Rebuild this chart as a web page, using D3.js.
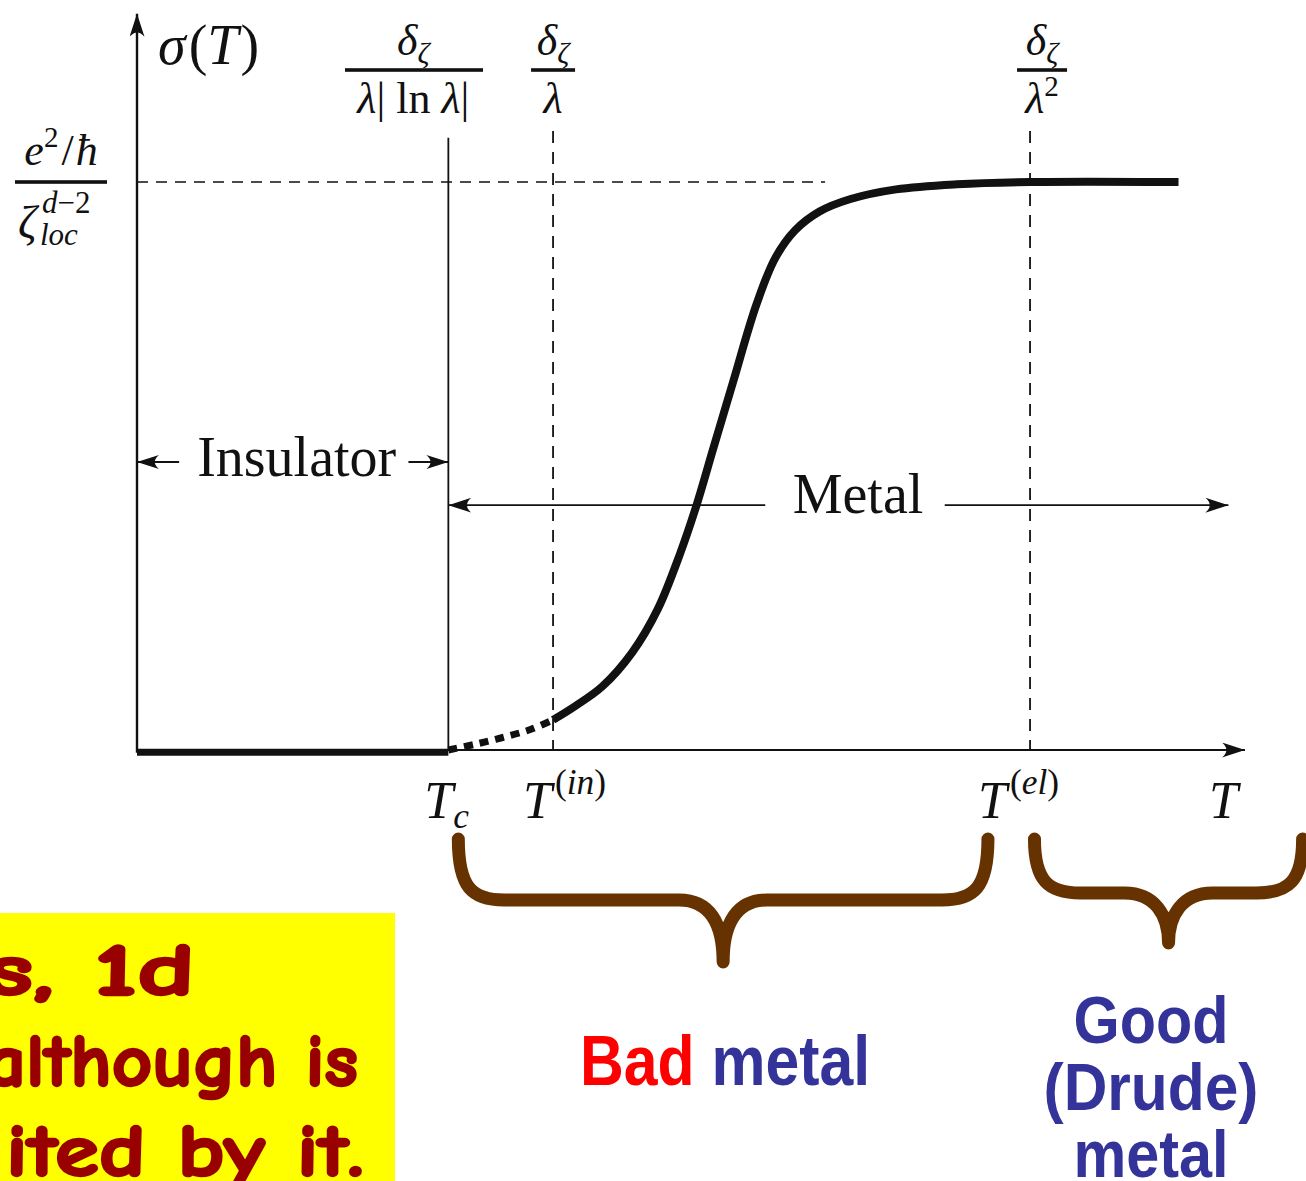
<!DOCTYPE html>
<html><head><meta charset="utf-8">
<script src="https://cdn.jsdelivr.net/npm/d3@7"></script>
<style>body{margin:0;background:#fff} svg{display:block}</style>
</head><body>
<svg id="c" width="1306" height="1181"></svg>
<script>
// Characteristic temperatures (arbitrary units along T)
const T_C = 28.1, T_IN = 37.55, T_EL = 80.6, T_END = 94.0;
// Conductivity in units of e^2/ħ ζ_loc^{d-2}
const insulatorT = [0, T_C];
const insulatorSigma = [-0.004, -0.004];
const crossoverT = [T_C, 30.5, 33.0, 35.5, T_IN];
const crossoverSigma = [0.0, 0.010, 0.022, 0.036, 0.053];
const metalT = [37.55, 39.6, 42.0, 44.7, 47.0, 49.0, 50.5, 52.0, 53.8, 55.9, 57.6, 59.4, 61.6, 64.4, 68.5, 74.0, 80.6, T_END];
const metalSigma = [0.053, 0.078, 0.112, 0.172, 0.248, 0.345, 0.431, 0.530, 0.648, 0.784, 0.866, 0.915, 0.948, 0.970, 0.987, 0.996, 1.0, 1.0];
// Regime extents along T
const insulatorRange = [0, T_C];
const metalRange = [T_C, 98.5];
const badMetalBrace = [29.0, 76.8];
const goodMetalBrace = [81.0, 105.2];

const SERIF = "'Liberation Serif','DejaVu Serif',serif";
const SANS = "'Liberation Sans',Arial,sans-serif";
const INK = "#111";
const BROWN = "#663300";
const BLUE = "#333399";

const svg = d3.select("#c");
const x = d3.scaleLinear().domain([0, 100]).range([137, 1245]);
const y = d3.scaleLinear().domain([0, 1]).range([750, 182]);

// arrowheads
const defs = svg.append("defs");
function head(id, len, half) {
  defs.append("marker").attr("id", id)
    .attr("viewBox", `${-len} ${-half} ${len + 1} ${half * 2}`)
    .attr("refX", 0).attr("refY", 0)
    .attr("markerWidth", len + 1).attr("markerHeight", half * 2)
    .attr("markerUnits", "userSpaceOnUse").attr("orient", "auto-start-reverse")
    .append("path")
    .attr("d", `M0,0 L${-len},${-half} Q${-len * 0.62},0 ${-len},${half} Z`)
    .attr("fill", INK);
}
head("big", 23, 7.5);
head("small", 22, 7);

const g = svg.append("g");

// axes
g.append("line").attr("x1", x(0)).attr("x2", x(0)).attr("y1", y(-0.005)).attr("y2", y(1.296))
  .attr("stroke", INK).attr("stroke-width", 2.4).attr("marker-end", "url(#big)");
g.append("line").attr("x1", x(0)).attr("x2", x(100)).attr("y1", y(0)).attr("y2", y(0))
  .attr("stroke", INK).attr("stroke-width", 2.2).attr("marker-end", "url(#big)");

// reference lines
g.append("line").attr("x1", x(0)).attr("x2", x(62.1)).attr("y1", y(1)).attr("y2", y(1))
  .attr("stroke", INK).attr("stroke-width", 1.7).attr("stroke-dasharray", "11,8");
g.append("line").attr("x1", x(T_C)).attr("x2", x(T_C)).attr("y1", y(1.078)).attr("y2", y(0))
  .attr("stroke", INK).attr("stroke-width", 1.8);
[T_IN, T_EL].forEach(t => {
  g.append("line").attr("x1", x(t)).attr("x2", x(t)).attr("y1", y(1.09)).attr("y2", y(0))
    .attr("stroke", INK).attr("stroke-width", 1.8).attr("stroke-dasharray", "12,9");
});

// conductivity curve
const line = d3.line().x(d => x(d[0])).y(d => y(d[1]));
g.append("path").attr("d", line(d3.zip(insulatorT, insulatorSigma)))
  .attr("fill", "none").attr("stroke", INK).attr("stroke-width", 7);
const smooth = d3.line().x(d => x(d[0])).y(d => y(d[1])).curve(d3.curveCatmullRom.alpha(0.5));
g.append("path").attr("d", smooth(d3.zip(crossoverT, crossoverSigma)))
  .attr("fill", "none").attr("stroke", INK).attr("stroke-width", 7).attr("stroke-dasharray", "9,7");
g.append("path").attr("d", smooth(d3.zip(metalT, metalSigma)))
  .attr("fill", "none").attr("stroke", INK).attr("stroke-width", 8).attr("stroke-linejoin", "round");

// regime arrows
const yIns = y(0.507), yMet = y(0.431);
g.append("line").attr("x1", x(3.8)).attr("x2", x(insulatorRange[0])).attr("y1", yIns).attr("y2", yIns)
  .attr("stroke", INK).attr("stroke-width", 2).attr("marker-end", "url(#small)");
g.append("line").attr("x1", x(24.5)).attr("x2", x(insulatorRange[1])).attr("y1", yIns).attr("y2", yIns)
  .attr("stroke", INK).attr("stroke-width", 2).attr("marker-end", "url(#small)");
g.append("text").attr("x", (x(insulatorRange[0]) + x(insulatorRange[1])) / 2 + 4).attr("y", yIns + 14)
  .attr("text-anchor", "middle").attr("font-family", SERIF).attr("font-size", 56).attr("fill", INK)
  .text("Insulator");
g.append("line").attr("x1", x(56.7)).attr("x2", x(metalRange[0])).attr("y1", yMet).attr("y2", yMet)
  .attr("stroke", INK).attr("stroke-width", 1.8).attr("marker-end", "url(#big)");
g.append("line").attr("x1", x(72.9)).attr("x2", x(metalRange[1])).attr("y1", yMet).attr("y2", yMet)
  .attr("stroke", INK).attr("stroke-width", 1.8).attr("marker-end", "url(#big)");
g.append("text").attr("x", 858).attr("y", yMet + 8)
  .attr("text-anchor", "middle").attr("font-family", SERIF).attr("font-size", 56).attr("fill", INK)
  .text("Metal");

// math-style labels
function rich(px, py, size, parts, anchor) {
  const t = g.append("text").attr("x", px).attr("y", py).attr("text-anchor", anchor || "middle")
    .attr("font-family", SERIF).attr("font-size", size).attr("fill", INK);
  let cur = 0;
  parts.forEach(p => {
    const off = p.off || 0;
    const ts = t.append("tspan").text(p.t).attr("dy", off - cur)
      .attr("font-size", p.s ? size * p.s : size)
      .attr("font-style", p.i ? "italic" : "normal");
    if (p.dx) ts.attr("dx", p.dx);
    cur = off;
  });
  return t;
}
function bar(x0, x1, yy) {
  g.append("rect").attr("x", x0).attr("y", yy - 1.8).attr("width", x1 - x0).attr("height", 3.6).attr("fill", INK);
}

rich(158, 64, 56, [{ t: "σ", i: 1 }, { t: "(", dx: 3 }, { t: "T", i: 1 }, { t: ")", dx: 2 }], "start");

const numDelta = [{ t: "δ", i: 1 }, { t: "ζ", i: 1, s: 0.68, off: 8 }];
const fx1 = x(T_C) - 35;
rich(fx1, 55, 44, numDelta); bar(345, 483, 70);
rich(fx1, 113, 44, [{ t: "λ", i: 1 }, { t: "| ln " }, { t: "λ", i: 1 }, { t: "|" }]);
rich(x(T_IN), 55, 44, numDelta); bar(x(T_IN) - 22, x(T_IN) + 22, 70);
rich(x(T_IN), 113, 44, [{ t: "λ", i: 1 }]);
const fx3 = x(T_EL) + 12;
rich(fx3, 55, 44, numDelta); bar(fx3 - 25, fx3 + 25, 70);
rich(fx3, 113, 44, [{ t: "λ", i: 1 }, { t: "2", s: 0.66, off: -17 }]);

// y reference label
rich(61, 165, 44, [{ t: "e", i: 1 }, { t: "2", s: 0.66, off: -18 }, { t: "/", off: 0, dx: 3 }, { t: "ħ", i: 1, dx: 2 }]);
bar(15, 107, y(1));
rich(18, 238, 46, [{ t: "ζ", i: 1 }], "start");
rich(42, 213, 31, [{ t: "d", i: 1 }, { t: "−2" }], "start");
rich(40, 245, 31, [{ t: "loc", i: 1 }], "start");

// T-axis labels
rich(x(T_C) - 24, 818, 52, [{ t: "T", i: 1 }, { t: "c", i: 1, s: 0.68, off: 10 }], "start");
rich(x(T_IN) - 30, 818, 52, [{ t: "T", i: 1 }, { t: "(", s: 0.68, off: -24, dx: 3 }, { t: "in", i: 1, s: 0.68, off: -24 }, { t: ")", s: 0.68, off: -24 }], "start");
rich(x(T_EL) - 52, 818, 52, [{ t: "T", i: 1 }, { t: "(", s: 0.68, off: -24, dx: 3 }, { t: "el", i: 1, s: 0.68, off: -24 }, { t: ")", s: 0.68, off: -24 }], "start");
rich(x(100) - 36, 818, 52, [{ t: "T", i: 1 }], "start");

// braces under the T axis
function brace(range, top, hy, tip) {
  const x0 = x(range[0]), x1 = x(range[1]), xc = (x0 + x1) / 2;
  const d = `M${x0},${top} C${x0},${hy - 12} ${x0 + 14},${hy} ${x0 + 46},${hy} L${xc - 44},${hy} ` +
    `C${xc - 14},${hy} ${xc},${hy + 22} ${xc},${tip} M${xc},${tip} C${xc},${hy + 22} ${xc + 14},${hy} ${xc + 44},${hy} ` +
    `L${x1 - 46},${hy} C${x1 - 14},${hy} ${x1},${hy - 12} ${x1},${top}`;
  g.append("path").attr("d", d).attr("fill", "none").attr("stroke", BROWN)
    .attr("stroke-width", 13).attr("stroke-linecap", "round").attr("stroke-linejoin", "round");
}
brace(badMetalBrace, 839, 900, 962);
brace(goodMetalBrace, 839, 893, 943);

// regime names
const bm = g.append("text").attr("x", 580).attr("y", 1085).attr("font-family", SANS)
  .attr("font-weight", "bold").attr("font-size", 70)
  .attr("textLength", 290).attr("lengthAdjust", "spacingAndGlyphs");
bm.append("tspan").attr("fill", "#ff0000").text("Bad");
bm.append("tspan").attr("fill", BLUE).text(" metal");
[["Good", 1043, 155], ["(Drude)", 1110, 215], ["metal", 1177, 155]].forEach(([s, yy, w]) => {
  g.append("text").attr("x", 1151).attr("y", yy).attr("text-anchor", "middle")
    .attr("font-family", SANS).attr("font-weight", "bold").attr("font-size", 66).attr("fill", BLUE)
    .attr("textLength", w).attr("lengthAdjust", "spacingAndGlyphs").text(s);
});

// note box
defs.append("clipPath").attr("id", "noteClip").append("rect")
  .attr("x", 0).attr("y", 913).attr("width", 395).attr("height", 268);
const note = g.append("g").attr("clip-path", "url(#noteClip)");
note.append("rect").attr("x", 0).attr("y", 913).attr("width", 395).attr("height", 268).attr("fill", "#ffff00");
[["s, 1d", -14, 995, 209], ["although is", -14, 1086, 372], ["ited by it.", 6, 1176, 358]].forEach(([s, xx, yy, w]) => {
  note.append("text").attr("x", xx).attr("y", yy)
    .attr("font-family", "'Comic Sans MS','Comic Neue','DejaVu Sans',sans-serif")
    .attr("font-weight", "bold").attr("font-size", 74).attr("fill", "#990000")
    .attr("stroke", "#990000").attr("stroke-width", 2.5).attr("stroke-linejoin", "round")
    .attr("textLength", w).attr("lengthAdjust", "spacingAndGlyphs").text(s);
});
</script>
</body></html>
